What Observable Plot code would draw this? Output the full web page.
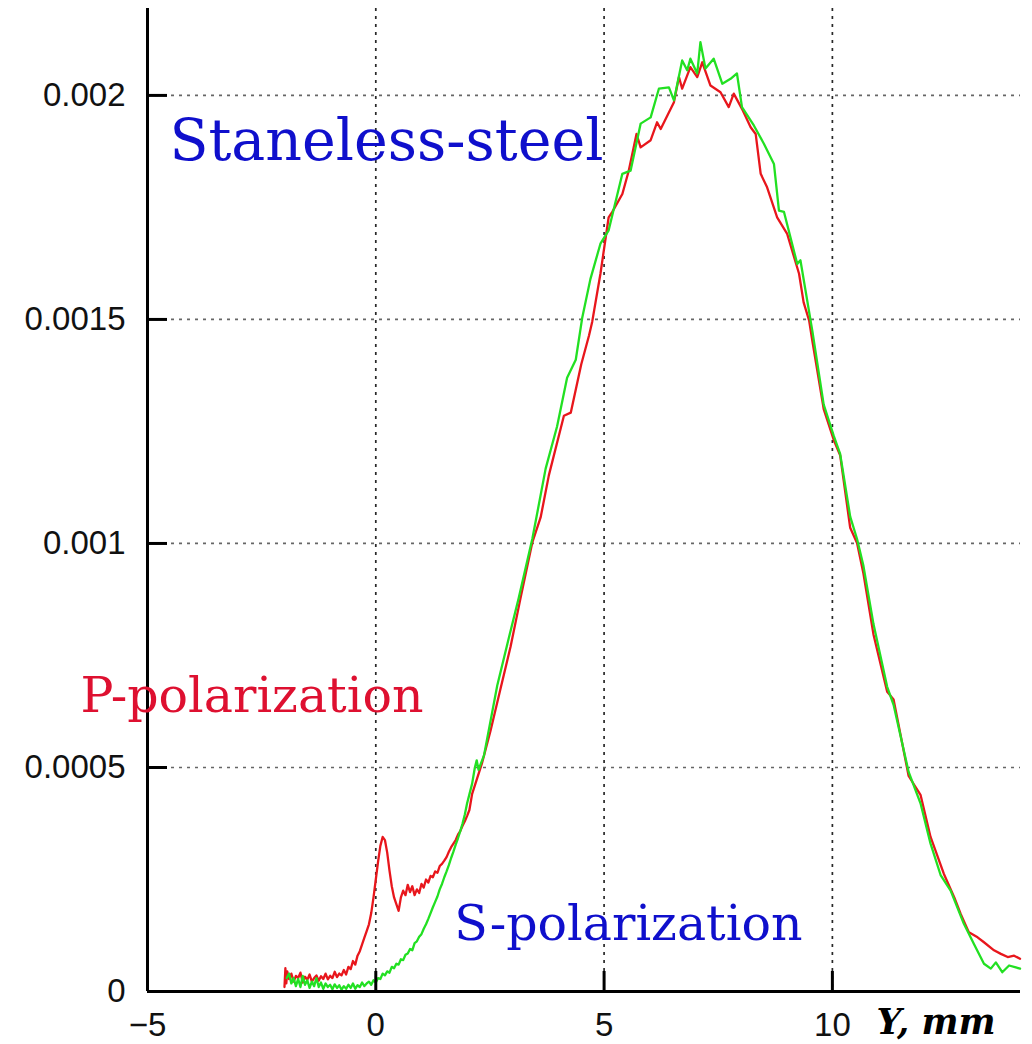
<!DOCTYPE html>
<html>
<head>
<meta charset="utf-8">
<script src="https://cdn.jsdelivr.net/npm/d3@7"></script>
<script src="https://cdn.jsdelivr.net/npm/@observablehq/plot@0.6"></script>
<style>
  html, body { margin: 0; padding: 0; background: #fff; }
  #chart { width: 1032px; height: 1044px; }
</style>
</head>
<body>
<div id="chart"></div>
<script>
// P-polarization (red) : [Y mm, signal]
const pPolar = [
  [-2.00,0.000010],[-1.98,0.000052],[-1.96,0.000018],[-1.94,0.000045],[-1.90,0.000028],[-1.85,0.000040],
  [-1.80,0.000022],[-1.75,0.000035],[-1.70,0.000030],[-1.65,0.000042],[-1.60,0.000020],[-1.55,0.000033],
  [-1.50,0.000026],[-1.45,0.000038],[-1.40,0.000022],[-1.35,0.000030],[-1.30,0.000036],[-1.25,0.000024],
  [-1.20,0.000034],[-1.15,0.000028],[-1.10,0.000040],[-1.05,0.000027],[-1.00,0.000035],[-0.95,0.000030],
  [-0.90,0.000044],[-0.85,0.000032],[-0.80,0.000040],[-0.75,0.000036],[-0.70,0.000048],[-0.65,0.000038],
  [-0.60,0.000055],[-0.55,0.000050],[-0.50,0.000068],[-0.45,0.000060],[-0.40,0.000080],[-0.35,0.000090],
  [-0.30,0.000105],[-0.25,0.000120],[-0.20,0.000135],[-0.15,0.000150],[-0.10,0.000175],[-0.05,0.000210],
  [0.00,0.000250],[0.05,0.000290],[0.10,0.000325],[0.15,0.000345],[0.20,0.000338],[0.25,0.000310],
  [0.30,0.000270],[0.35,0.000235],[0.40,0.000210],[0.45,0.000195],[0.50,0.000180],[0.55,0.000210],
  [0.60,0.000225],[0.65,0.000215],[0.70,0.000238],[0.75,0.000222],[0.80,0.000235],[0.85,0.000215],
  [0.90,0.000228],[0.95,0.000220],[1.00,0.000240],[1.05,0.000232],[1.10,0.000250],[1.15,0.000243],
  [1.20,0.000258],[1.25,0.000255],[1.30,0.000268],[1.35,0.000265],[1.40,0.000280],[1.45,0.000285],
  [1.50,0.000292],[1.55,0.000300],[1.60,0.000312],[1.65,0.000322],[1.70,0.000330],[1.75,0.000338],
  [1.80,0.000350],[1.85,0.000358],[1.90,0.000370],[1.95,0.000380],[2.00,0.000392],[2.05,0.000405],
  [2.11,0.000441],[2.33,0.000511],[2.51,0.000581],[2.73,0.000675],[2.95,0.000769],[3.17,0.000878],
  [3.43,0.001003],[3.61,0.001058],[3.79,0.001152],[4.12,0.001285],[4.27,0.001292],[4.50,0.001400],
  [4.67,0.001464],[4.74,0.001495],[4.92,0.001602],[5.10,0.001728],[5.18,0.001740],[5.40,0.001780],
  [5.54,0.001832],[5.71,0.001914],[5.80,0.001884],[6.02,0.001900],[6.16,0.001940],[6.24,0.001925],
  [6.53,0.001985],[6.64,0.002041],[6.71,0.002015],[6.89,0.002063],[7.04,0.002041],[7.15,0.002074],
  [7.33,0.002022],[7.55,0.002007],[7.73,0.001974],[7.84,0.002004],[8.02,0.001970],[8.21,0.001929],
  [8.32,0.001914],[8.43,0.001825],[8.57,0.001795],[8.79,0.001728],[9.01,0.001691],[9.27,0.001602],
  [9.37,0.001538],[9.49,0.001498],[9.56,0.001453],[9.81,0.001300],[10.03,0.001231],[10.17,0.001197],
  [10.39,0.001035],[10.54,0.001001],[10.68,0.000933],[10.90,0.000797],[11.20,0.000669],[11.34,0.000652],
  [11.67,0.000481],[11.93,0.000439],[12.15,0.000345],[12.44,0.000263],[12.67,0.000210],[12.81,0.000173],
  [12.99,0.000132],[13.18,0.000121],[13.32,0.000110],[13.54,0.000092],[13.69,0.000084],[13.84,0.000077],
  [13.98,0.000080],[14.11,0.000073]
];

// S-polarization (green) : [Y mm, signal]
const sPolar = [
  [-1.95,0.000030],[-1.90,0.000040],[-1.85,0.000018],[-1.80,0.000030],[-1.75,0.000012],[-1.70,0.000028],
  [-1.65,0.000010],[-1.60,0.000035],[-1.55,0.000015],[-1.50,0.000025],[-1.45,0.000008],[-1.40,0.000022],
  [-1.35,0.000012],[-1.30,0.000030],[-1.25,0.000010],[-1.20,0.000020],[-1.15,0.000006],[-1.10,0.000018],
  [-1.05,0.000010],[-1.00,0.000015],[-0.95,0.000005],[-0.90,0.000016],[-0.85,0.000008],[-0.80,0.000014],
  [-0.75,0.000004],[-0.70,0.000012],[-0.65,0.000006],[-0.60,0.000015],[-0.55,0.000008],[-0.50,0.000018],
  [-0.45,0.000006],[-0.40,0.000014],[-0.35,0.000010],[-0.30,0.000020],[-0.25,0.000012],[-0.20,0.000018],
  [-0.15,0.000022],[-0.10,0.000015],[-0.05,0.000025],[0.00,0.000020],[0.05,0.000030],[0.10,0.000028],
  [0.15,0.000040],[0.20,0.000036],[0.25,0.000045],[0.30,0.000042],[0.35,0.000055],[0.40,0.000052],
  [0.45,0.000062],[0.50,0.000060],[0.55,0.000072],[0.60,0.000070],[0.65,0.000082],[0.70,0.000085],
  [0.75,0.000095],[0.80,0.000092],[0.85,0.000108],[0.90,0.000112],[0.95,0.000122],[1.00,0.000128],
  [1.05,0.000140],[1.10,0.000150],[1.15,0.000162],[1.20,0.000175],[1.25,0.000188],[1.30,0.000200],
  [1.35,0.000212],[1.40,0.000228],[1.45,0.000240],[1.50,0.000255],[1.55,0.000268],[1.60,0.000282],
  [1.65,0.000298],[1.70,0.000312],[1.75,0.000328],[1.80,0.000342],[1.85,0.000358],[1.90,0.000375],
  [1.95,0.000395],[2.00,0.000420],[2.05,0.000440],[2.11,0.000464],[2.17,0.000500],[2.21,0.000516],
  [2.25,0.000495],[2.37,0.000527],[2.66,0.000683],[2.92,0.000792],[3.13,0.000878],[3.43,0.001011],
  [3.72,0.001167],[3.97,0.001261],[4.19,0.001370],[4.38,0.001410],[4.52,0.001503],[4.70,0.001590],
  [4.92,0.001669],[5.10,0.001699],[5.40,0.001825],[5.58,0.001832],[5.80,0.001937],[6.02,0.001951],
  [6.20,0.002015],[6.42,0.002018],[6.53,0.001989],[6.71,0.002078],[6.82,0.002056],[6.89,0.002082],
  [7.04,0.002049],[7.11,0.002119],[7.22,0.002060],[7.40,0.002082],[7.59,0.002026],[7.77,0.002037],
  [7.91,0.002049],[8.02,0.001974],[8.28,0.001933],[8.50,0.001892],[8.72,0.001847],[8.83,0.001743],
  [8.94,0.001740],[9.23,0.001624],[9.30,0.001632],[9.56,0.001475],[9.81,0.001310],[10.03,0.001240],
  [10.17,0.001200],[10.39,0.001060],[10.54,0.001010],[10.68,0.000950],[10.90,0.000820],[11.20,0.000680],
  [11.34,0.000640],[11.67,0.000490],[11.93,0.000420],[12.15,0.000330],[12.37,0.000260],[12.59,0.000225],
  [12.88,0.000151],[13.10,0.000106],[13.32,0.000062],[13.47,0.000051],[13.58,0.000065],[13.72,0.000043],
  [13.87,0.000058],[14.11,0.000051]
];

const xTicks = [-5, 0, 5, 10];
const yTicks = [0, 0.0005, 0.001, 0.0015, 0.002];
const xGrid = [0, 5, 10];
const yGrid = [0.0005, 0.001, 0.0015, 0.002];
const xDomain = [-5, 14.12];
const yDomain = [0, 0.002194];

// annotations
const titleLabel = [{x: -4.52, y: 0.001855, text: "Staneless-steel"}];
const pLabel = [{x: -6.47, y: 0.000623, text: "P-polarization"}];
const sLabel = [{x: 1.72, y: 0.000114, text: "S-polarization"}];
const axisLabel = [{text: "Y, mm"}];

const W = 1032, H = 1044, mL = 147, mT = 8, mR = 12, mB = 53;
const tickLen = 20;
const serif = "'DejaVu Serif', serif";

const chart = Plot.plot({
  width: W,
  height: H,
  marginLeft: mL,
  marginTop: mT,
  marginRight: mR,
  marginBottom: mB,
  style: {fontFamily: "'Liberation Sans', Arial, sans-serif", fontSize: "33px", background: "#fff", overflow: "visible"},
  x: {domain: xDomain},
  y: {domain: yDomain},
  marks: [
    Plot.gridX(xGrid, {stroke: "#111", strokeOpacity: 0.9, strokeWidth: 1.7, strokeDasharray: "3,5"}),
    Plot.gridY(yGrid, {stroke: "#555", strokeOpacity: 0.9, strokeWidth: 1.7, strokeDasharray: "3,5"}),
    Plot.line(pPolar, {x: d => d[0], y: d => d[1], stroke: "#e8161c", strokeWidth: 2.3}),
    Plot.line(sPolar, {x: d => d[0], y: d => d[1], stroke: "#22e022", strokeWidth: 2.3}),
    Plot.ruleX([-5], {stroke: "#000", strokeWidth: 3}),
    Plot.ruleY([0], {stroke: "#000", strokeWidth: 3}),
    Plot.tickX(xTicks.slice(1), {x: d => d, insetTop: H - mT - mB - tickLen, stroke: "#000", strokeWidth: 3}),
    Plot.tickY(yTicks.slice(1), {y: d => d, insetRight: W - mL - mR - tickLen, stroke: "#000", strokeWidth: 3}),
    Plot.axisX({ticks: xTicks, tickSize: 0, tickPadding: 21, label: null, fill: "#111"}),
    Plot.axisY({ticks: yTicks, tickSize: 0, tickPadding: 22, label: null, fill: "#111",
      tickFormat: d => d === 0 ? "0" : String(d)}),
    Plot.text(axisLabel, {text: "text", frameAnchor: "bottom-right", textAnchor: "end", lineAnchor: "middle",
      dx: -25, dy: 31, fontFamily: serif, fontWeight: "bold", fontStyle: "italic", fontSize: 35, fill: "#000"}),
    Plot.text(titleLabel, {x: "x", y: "y", text: "text", textAnchor: "start", lineAnchor: "bottom",
      fontFamily: serif, fontSize: 57, fill: "#0f0fcc"}),
    Plot.text(pLabel, {x: "x", y: "y", text: "text", textAnchor: "start", lineAnchor: "bottom",
      fontFamily: serif, fontSize: 49, fill: "#de1030"}),
    Plot.text(sLabel, {x: "x", y: "y", text: "text", textAnchor: "start", lineAnchor: "bottom",
      fontFamily: serif, fontSize: 49, fill: "#0f0fcc"})
  ]
});
document.getElementById("chart").appendChild(chart);
</script>
</body>
</html>
